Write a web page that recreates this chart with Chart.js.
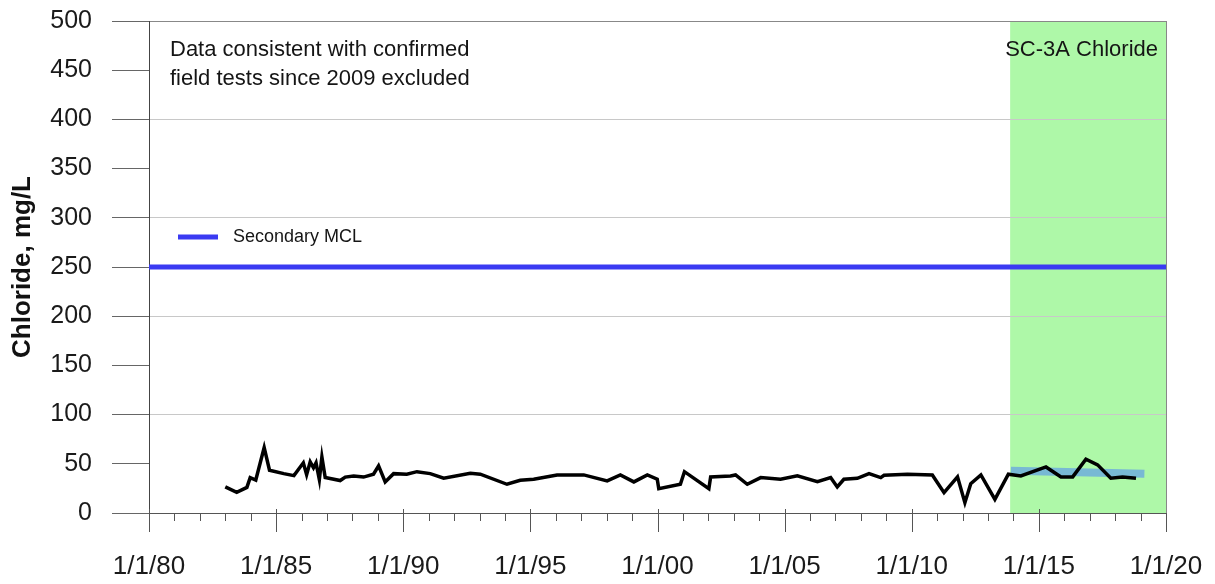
<!DOCTYPE html>
<html>
<head>
<meta charset="utf-8">
<title>SC-3A Chloride</title>
<script src="https://cdn.jsdelivr.net/npm/chart.js@4.4.1/dist/chart.umd.min.js"></script>
<style>
  html, body { margin: 0; padding: 0; background: #fff; }
  #wrap { width: 1215px; height: 584px; }
</style>
</head>
<body>
<div id="wrap"><canvas id="chloride-chart"></canvas></div>
<script>
// sample dates as decimal years
const sampleYears = [
  1983.0, 1983.45, 1983.85, 1983.98, 1984.2, 1984.53, 1984.74, 1985.3, 1985.7, 1986.07,
  1986.2, 1986.34, 1986.47, 1986.57, 1986.7, 1986.8, 1986.93, 1987.52, 1987.72, 1988.05,
  1988.44, 1988.83, 1989.03, 1989.29, 1989.62, 1990.14, 1990.54, 1991.06, 1991.59, 1992.64,
  1993.03, 1994.08, 1994.6, 1995.13, 1996.05, 1997.1, 1998.02, 1998.54, 1999.07, 1999.6,
  1999.99, 2000.05, 2000.9, 2001.06, 2002.02, 2002.09, 2002.87, 2003.07, 2003.53, 2004.06,
  2004.84, 2005.5, 2006.29, 2006.81, 2007.07, 2007.33, 2007.86, 2008.32, 2008.78, 2008.91,
  2009.83, 2010.81, 2011.27, 2011.8, 2012.09, 2012.32, 2012.72, 2013.27, 2013.8, 2014.29,
  2015.28, 2015.87, 2016.33, 2016.85, 2017.31, 2017.83, 2018.29, 2018.82
];
const chlorideValues = [
  26.5, 21, 26, 36, 33.5, 66.5, 43.5, 40, 38, 51,
  39, 52, 46, 51, 34, 57, 36, 33, 36.5, 37.7,
  36.5, 39.4, 47.9, 31.6, 40, 39.4, 42, 40, 35.3, 40.4,
  39.4, 29.2, 33.3, 34.3, 38.7, 38.7, 32.6, 38.7, 31.6, 38.7,
  34.3, 24.7, 29.2, 42, 24.7, 36.7, 37.7, 38.7, 29.2, 36,
  34.3, 37.7, 31.9, 36, 26.5, 34.3, 35.3, 40, 36, 38.4,
  39.4, 38.7, 20.7, 36.7, 10.5, 29.8, 38.7, 13.9, 39.4, 37.7,
  46.8, 36.7, 36.7, 54.7, 48.9, 35.3, 36.7, 35.3
];

// trend line over the highlighted period
const trendYears = [2013.9, 2019.15];
const trendValues = [43, 40];

// secondary MCL
const mclYears = [1980, 2020];
const mclValues = [250, 250];

// highlighted period (green band)
const bandYears = [2013.87, 2020];

const xLabelYears = [1980, 1985, 1990, 1995, 2000, 2005, 2010, 2015, 2020];
const yTickValues = [0, 50, 100, 150, 200, 250, 300, 350, 400, 450, 500];

const noteLines = ["Data consistent with confirmed", "field tests since 2009 excluded"];
const bandTitle = "SC-3A Chloride";
const mclLabel = "Secondary MCL";

const FONT = "'Liberation Sans', Arial, sans-serif";
const MCL_BLUE = "#3a3af2";

function toPoints(xs, ys) {
  return xs.map((x, i) => ({ x: x, y: ys[i] }));
}

function yearLabel(value) {
  return "1/1/" + String(value % 100).padStart(2, "0");
}

// keep the plot box where the original has it
function noMargins(scale) {
  scale.paddingLeft = 0;
  scale.paddingRight = 0;
  scale.paddingTop = 0;
  scale.paddingBottom = 0;
}

const sheetPlugin = {
  id: "sheet",
  beforeDraw(chart) {
    const { ctx, chartArea, scales } = chart;
    const x0 = scales.x.getPixelForValue(bandYears[0]);
    const x1 = scales.x.getPixelForValue(bandYears[1]);
    ctx.save();
    ctx.fillStyle = "#aef8a8";
    ctx.fillRect(x0, chartArea.top, x1 - x0, chartArea.bottom - chartArea.top);
    ctx.restore();
  },
  afterDraw(chart) {
    const { ctx, chartArea, scales } = chart;
    const bottom = chartArea.bottom;
    ctx.save();

    // year tick marks, longer every 5 years
    ctx.strokeStyle = "#555";
    ctx.lineWidth = 1;
    for (let yr = 1980; yr <= 2020; yr++) {
      const px = Math.round(scales.x.getPixelForValue(yr)) + 0.5;
      const major = xLabelYears.includes(yr);
      ctx.beginPath();
      ctx.moveTo(px, major ? bottom - 4 : bottom);
      ctx.lineTo(px, major ? bottom + 19 : bottom + 8);
      ctx.stroke();
    }

    // right border
    ctx.strokeStyle = "#888";
    ctx.beginPath();
    ctx.moveTo(Math.round(chartArea.right) + 0.5, chartArea.top);
    ctx.lineTo(Math.round(chartArea.right) + 0.5, bottom);
    ctx.stroke();

    // notes
    ctx.fillStyle = "#151515";
    ctx.textBaseline = "middle";
    ctx.font = "22px " + FONT;
    ctx.textAlign = "left";
    ctx.fillText(noteLines[0], chartArea.left + 21, chartArea.top + 29);
    ctx.fillText(noteLines[1], chartArea.left + 21, chartArea.top + 58);
    ctx.textAlign = "right";
    ctx.fillText(bandTitle, chartArea.right - 8, chartArea.top + 29);

    // legend for the MCL line
    const ly = chartArea.top + 216;
    ctx.strokeStyle = MCL_BLUE;
    ctx.lineWidth = 5;
    ctx.beginPath();
    ctx.moveTo(chartArea.left + 29, ly);
    ctx.lineTo(chartArea.left + 69, ly);
    ctx.stroke();
    ctx.font = "18px " + FONT;
    ctx.textAlign = "left";
    ctx.fillText(mclLabel, chartArea.left + 84, ly);

    ctx.restore();
  }
};

new Chart(document.getElementById("chloride-chart"), {
  type: "line",
  data: {
    datasets: [
      {
        label: "Secondary MCL",
        data: toPoints(mclYears, mclValues),
        borderColor: MCL_BLUE,
        borderWidth: 5,
        pointRadius: 0,
      },
      {
        label: "Chloride",
        data: toPoints(sampleYears, chlorideValues),
        borderColor: "#000",
        borderWidth: 3.5,
        pointRadius: 0,
        tension: 0,
      },
      {
        label: "Trend",
        data: toPoints(trendYears, trendValues),
        borderColor: "rgba(90, 150, 235, 0.65)",
        borderWidth: 8,
        pointRadius: 0,
      },
    ],
  },
  options: {
    responsive: true,
    maintainAspectRatio: false,
    animation: false,
    layout: { padding: { top: 21, right: 49, left: 0, bottom: 0 } },
    plugins: {
      legend: { display: false },
      tooltip: { enabled: false },
    },
    scales: {
      x: {
        type: "linear",
        min: 1980,
        max: 2020,
        afterFit: (scale) => { scale.height = 71; noMargins(scale); },
        afterBuildTicks: (scale) => {
          scale.ticks = xLabelYears.map((v) => ({ value: v }));
        },
        ticks: {
          autoSkip: false,
          maxRotation: 0,
          padding: 38,
          color: "#1a1a1a",
          font: { family: FONT, size: 26 },
          callback: (value) => yearLabel(value),
        },
        grid: { display: false, drawTicks: false },
        border: { display: true, color: "#555", width: 1 },
      },
      y: {
        min: 0,
        max: 500,
        afterFit: (scale) => { scale.width = 149; noMargins(scale); },
        afterBuildTicks: (scale) => {
          scale.ticks = yTickValues.map((v) => ({ value: v }));
        },
        ticks: {
          padding: 20,
          color: "#1a1a1a",
          font: { family: FONT, size: 25 },
        },
        grid: {
          tickLength: 37,
          lineWidth: 1,
          color: (c) => {
            const v = c.tick ? c.tick.value : null;
            if (v === 500) return "#888";
            if (v > 0 && v % 100 === 0) return "#c8c8c8";
            return "rgba(0,0,0,0)";
          },
          tickColor: "#666",
        },
        border: { display: true, color: "#444", width: 1 },
        title: {
          display: true,
          text: "Chloride, mg/L",
          color: "#111",
          font: { family: FONT, size: 26, weight: "bold" },
          padding: { top: 7, bottom: 0 },
        },
      },
    },
  },
  plugins: [sheetPlugin],
});
</script>
</body>
</html>
